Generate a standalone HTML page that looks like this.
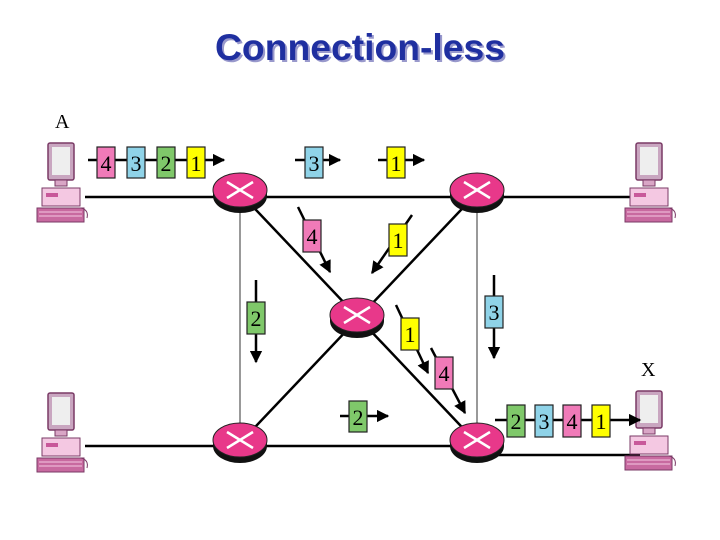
<!DOCTYPE html>
<html><head><meta charset="utf-8"><style>
html,body{margin:0;padding:0;background:#fff;}
svg{display:block}
</style></head><body>
<svg width="720" height="540" viewBox="0 0 720 540" xmlns="http://www.w3.org/2000/svg">
<defs>
<g id="r">
<ellipse cx="0" cy="6" rx="27" ry="17" fill="#111"/>
<rect x="-27" y="0" width="54" height="6" fill="#111"/>
<ellipse cx="0" cy="0" rx="27" ry="17" fill="#e8388a" stroke="#222" stroke-width="1"/>
<path d="M-13,-8 L13,8 M13,-8 L-13,8" stroke="#fff" stroke-width="2.5"/>
</g>
<g id="pc">
<rect x="11" y="3" width="26" height="37" rx="2" fill="#c9a6c0" stroke="#7a3a66" stroke-width="1.5"/>
<rect x="15" y="7" width="18" height="28" fill="#eee"/>
<rect x="18" y="40" width="12" height="6" fill="#d9a6c6" stroke="#7a3a66"/>
<rect x="5" y="48" width="38" height="18" fill="#f4c8e2" stroke="#7a3a66"/>
<rect x="9" y="53" width="12" height="4" fill="#c8589a"/>
<rect x="0" y="68" width="47" height="14" fill="#c86aa0" stroke="#7a3a66"/>
<path d="M2,72 H45 M2,76 H45" stroke="#f4c8e2" stroke-width="1"/>
<path d="M44,68 q8,2 6,10" stroke="#7a3a66" fill="none"/>
</g>
<marker id="a" viewBox="0 0 10 10" refX="9" refY="5" markerWidth="5" markerHeight="5" orient="auto"><path d="M0,0 L10,5 L0,10 z" fill="#000"/></marker>
</defs>
<text x="362" y="62" text-anchor="middle" font-family="Liberation Sans, sans-serif" font-weight="bold" font-size="37" fill="#9999cc" textLength="290" lengthAdjust="spacingAndGlyphs">Connection-less</text>
<text x="360" y="60" text-anchor="middle" font-family="Liberation Sans, sans-serif" font-weight="bold" font-size="37" fill="#1f2fa0" textLength="290" lengthAdjust="spacingAndGlyphs">Connection-less</text>

<g stroke="#000" stroke-width="2.5" fill="none">
<line x1="85" y1="197" x2="640" y2="197"/>
<line x1="85" y1="446" x2="480" y2="446"/>
<line x1="477" y1="455" x2="640" y2="455"/>
<line x1="240" y1="193" x2="477" y2="443"/>
<line x1="477" y1="193" x2="240" y2="443"/>
</g>
<g stroke="#333" stroke-width="1">
<line x1="240" y1="193" x2="240" y2="443"/>
<line x1="477" y1="193" x2="477" y2="443"/>
</g>
<use href="#r" x="240" y="190"/>
<use href="#r" x="477" y="190"/>
<use href="#r" x="357" y="315"/>
<use href="#r" x="240" y="440"/>
<use href="#r" x="477" y="440"/>

<use href="#pc" x="37" y="140"/>
<use href="#pc" x="625" y="140"/>
<use href="#pc" x="37" y="390"/>
<use href="#pc" x="625" y="388"/>

<g font-family="Liberation Serif, serif" font-size="20" fill="#000">
<text x="55" y="128">A</text>
<text x="641" y="376">X</text>
</g>

<g stroke="#000" stroke-width="2.5" marker-end="url(#a)" fill="none">
<line x1="88" y1="160" x2="224" y2="160"/>
<line x1="295" y1="160" x2="340" y2="160"/>
<line x1="378" y1="160" x2="424" y2="160"/>
<line x1="298" y1="207" x2="330" y2="272"/>
<line x1="412" y1="215" x2="372" y2="273"/>
<line x1="256" y1="280" x2="256" y2="362"/>
<line x1="494" y1="275" x2="494" y2="358"/>
<line x1="396" y1="305" x2="428" y2="373"/>
<line x1="431" y1="348" x2="465" y2="413"/>
<line x1="340" y1="416" x2="388" y2="416"/>
<line x1="495" y1="420" x2="640" y2="420"/>
</g>

<g stroke="#222" stroke-width="1.2" font-family="Liberation Serif, serif" font-size="22" text-anchor="middle">
<g><rect x="97" y="147" width="18" height="31" fill="#f07ab8"/><text x="106" y="171" stroke="none">4</text></g>
<g><rect x="127" y="147" width="18" height="31" fill="#8fd3e8"/><text x="136" y="171" stroke="none">3</text></g>
<g><rect x="157" y="147" width="18" height="31" fill="#7fc86a"/><text x="166" y="171" stroke="none">2</text></g>
<g><rect x="187" y="147" width="18" height="31" fill="#ffff00"/><text x="196" y="171" stroke="none">1</text></g>
<g><rect x="305" y="147" width="18" height="31" fill="#8fd3e8"/><text x="314" y="171" stroke="none">3</text></g>
<g><rect x="387" y="147" width="18" height="31" fill="#ffff00"/><text x="396" y="171" stroke="none">1</text></g>
<g><rect x="303" y="220" width="18" height="32" fill="#f07ab8"/><text x="312" y="244" stroke="none">4</text></g>
<g><rect x="389" y="224" width="18" height="32" fill="#ffff00"/><text x="398" y="248" stroke="none">1</text></g>
<g><rect x="247" y="302" width="18" height="32" fill="#7fc86a"/><text x="256" y="326" stroke="none">2</text></g>
<g><rect x="485" y="296" width="18" height="32" fill="#8fd3e8"/><text x="494" y="320" stroke="none">3</text></g>
<g><rect x="401" y="318" width="18" height="32" fill="#ffff00"/><text x="410" y="342" stroke="none">1</text></g>
<g><rect x="435" y="357" width="18" height="32" fill="#f07ab8"/><text x="444" y="381" stroke="none">4</text></g>
<g><rect x="349" y="401" width="18" height="31" fill="#7fc86a"/><text x="358" y="425" stroke="none">2</text></g>
<g><rect x="507" y="405" width="18" height="32" fill="#7fc86a"/><text x="516" y="429" stroke="none">2</text></g>
<g><rect x="535" y="405" width="18" height="32" fill="#8fd3e8"/><text x="544" y="429" stroke="none">3</text></g>
<g><rect x="563" y="405" width="18" height="32" fill="#f07ab8"/><text x="572" y="429" stroke="none">4</text></g>
<g><rect x="592" y="405" width="18" height="32" fill="#ffff00"/><text x="601" y="429" stroke="none">1</text></g>
</g>
</svg>
</body></html>
